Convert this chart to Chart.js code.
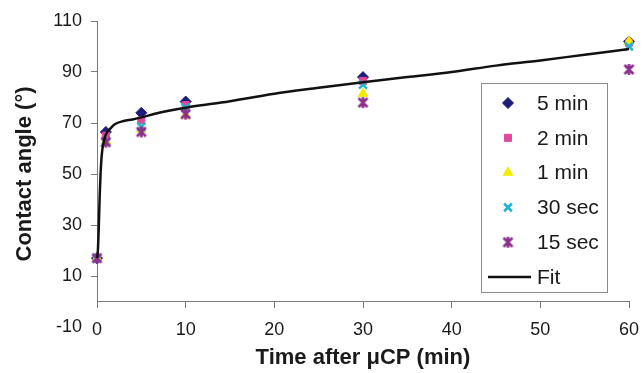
<!DOCTYPE html>
<html>
<head>
<meta charset="utf-8">
<script src="https://cdn.jsdelivr.net/npm/chart.js@4.4.0/dist/chart.umd.min.js"></script>
<style>
  html, body { margin: 0; padding: 0; background: #fff; }
  #wrap { position: relative; width: 642px; height: 373px; }
</style>
</head>
<body>
<div id="wrap"><canvas id="angleChart" width="642" height="373"></canvas></div>
<script>
// time points (min) and measured contact angles per stamping time
const times = [0, 1, 5, 10, 30, 60];
const fiveMin   = [17, 66.5, 74, 78.4, 88, 102];
const twoMin    = [17, 65, 71, 77, 86.5, 101.5];
const oneMin    = [17, 63, 67.5, 73, 81.5, 102];
const thirtySec = [17, 62.5, 68.5, 76, 85, 100];
const fifteenSec = [17, 62.5, 66.5, 73.5, 78, 91];

// fit curve
const fitX = [0, 0.1, 0.2, 0.3, 0.4, 0.55, 0.75, 1, 1.5, 2, 3, 4, 5, 7, 10, 14, 20, 25, 30, 35, 40, 45, 50, 55, 60];
const fitY = [17, 20, 29, 41, 50, 58, 62.5, 65.5, 67.8, 69.5, 70.8, 71.4, 72.2, 74, 76, 78, 81.5, 83.8, 86, 88, 90, 92.5, 94.5, 96.8, 99];

const xTicks = [0, 10, 20, 30, 40, 50, 60];
const yTicks = [-10, 10, 30, 50, 70, 90, 110];

const AXIS = '#7a7a7a';
const TXT = '#1a1a1a';

// x + vertical bar marker (excel star)
function starMarker(color){
  const c = document.createElement('canvas');
  c.width = 13; c.height = 13;
  const g = c.getContext('2d');
  g.strokeStyle = color; g.lineWidth = 2.6;
  g.beginPath();
  g.moveTo(2, 2); g.lineTo(11, 11);
  g.moveTo(11, 2); g.lineTo(2, 11);
  g.moveTo(6.5, 1); g.lineTo(6.5, 12);
  g.stroke();
  return c;
}

function pts(vals){ return times.map((t, i) => ({x: t, y: vals[i]})); }

const markerSet = (label, vals, color, style, r, order) => ({
  label: label,
  data: pts(vals),
  showLine: false,
  pointStyle: style,
  pointRadius: r,
  pointHoverRadius: r,
  pointBackgroundColor: color,
  pointBorderColor: color,
  pointBorderWidth: style === 'crossRot' ? 2.6 : 1,
  clip: false,
  order: order
});

const datasets = [
  markerSet('5 min', fiveMin, '#1c1c78', 'rectRot', 5.5, 5),
  markerSet('2 min', twoMin, '#e0489a', 'rect', 5, 4),
  markerSet('1 min', oneMin, '#f2ec00', 'triangle', 5.5, 3),
  markerSet('30 sec', thirtySec, '#1fb4d2', 'crossRot', 5.5, 2),
  markerSet('15 sec', fifteenSec, '#8c2f8c', starMarker('#8c2f8c'), 6, 1),
  {
    label: 'Fit',
    data: fitX.map((x, i) => ({x: x, y: fitY[i]})),
    showLine: true,
    borderColor: '#111',
    borderWidth: 2.5,
    pointRadius: 0,
    cubicInterpolationMode: 'monotone',
    clip: false,
    order: 0
  }
];

// y axis line from 0 to top, like the original
const yAxisLine = {
  id: 'yAxisLine',
  beforeDatasetsDraw(chart){
    const {ctx, scales: {x, y}} = chart;
    const px = Math.round(x.getPixelForValue(0)) + 0.5;
    ctx.save();
    ctx.strokeStyle = AXIS; ctx.lineWidth = 1;
    ctx.beginPath();
    ctx.moveTo(px, y.getPixelForValue(110));
    ctx.lineTo(px, y.getPixelForValue(0));
    ctx.stroke();
    ctx.restore();
  }
};

// boxed legend inside the plot
const boxLegend = {
  id: 'boxLegend',
  afterDraw(chart){
    const ctx = chart.ctx;
    const left = 481, top = 83, w = 126, h = 209;
    const rowH = 34.8, firstY = 103;
    ctx.save();
    ctx.fillStyle = '#fff';
    ctx.fillRect(left, top, w, h);
    ctx.strokeStyle = '#8a8a8a'; ctx.lineWidth = 1;
    ctx.strokeRect(left + 0.5, top + 0.5, w, h);
    ctx.font = '21px "Liberation Sans", Arial, sans-serif';
    ctx.textBaseline = 'middle';
    chart.data.datasets.forEach((ds, i) => {
      const cy = firstY + i * rowH;
      if (ds.showLine) {
        ctx.strokeStyle = ds.borderColor; ctx.lineWidth = ds.borderWidth;
        ctx.beginPath(); ctx.moveTo(488, cy); ctx.lineTo(531, cy); ctx.stroke();
      } else {
        ctx.fillStyle = ds.pointBackgroundColor;
        ctx.strokeStyle = ds.pointBorderColor;
        ctx.lineWidth = ds.pointBorderWidth;
        Chart.helpers.drawPoint(ctx, {pointStyle: ds.pointStyle, radius: ds.pointRadius, borderWidth: ds.pointBorderWidth, rotation: 0}, 508, cy);
      }
      ctx.fillStyle = TXT;
      ctx.fillText(ds.label, 537, cy + 1);
    });
    ctx.restore();
  }
};

new Chart(document.getElementById('angleChart'), {
  type: 'scatter',
  data: { datasets: datasets },
  options: {
    responsive: false,
    animation: false,
    events: [],
    layout: { padding: { left: 0, right: 13, top: 21, bottom: 46 } },
    plugins: { legend: { display: false }, tooltip: { enabled: false } },
    scales: {
      x: {
        type: 'linear',
        position: { y: 0 },
        min: 0, max: 60,
        afterBuildTicks: (s) => { s.ticks = xTicks.map(v => ({value: v})); },
        // keep tick padding from eating the right margin; set title offset
        afterFit: (s) => { s.paddingLeft = 0; s.paddingRight = 0; s.height = 70; },
        grid: { drawOnChartArea: false, tickLength: 6, color: AXIS },
        border: { color: AXIS },
        ticks: { color: TXT, padding: 12, maxRotation: 0, font: { family: 'Liberation Sans', size: 18 } },
        title: { display: true, text: 'Time after μCP (min)', color: TXT, padding: 0,
                 font: { family: 'Liberation Sans', size: 22, weight: 'bold' } }
      },
      y: {
        type: 'linear',
        min: -10, max: 110,
        afterBuildTicks: (s) => { s.ticks = yTicks.map(v => ({value: v})); },
        afterFit: (s) => { s.width = 97; },
        grid: { drawOnChartArea: false, tickLength: 6,
                color: (c) => (c.tick && c.tick.value === -10) ? 'rgba(0,0,0,0)' : AXIS },
        border: { display: false },
        ticks: { color: TXT, padding: 9, font: { family: 'Liberation Sans', size: 18 } },
        title: { display: true, text: 'Contact angle (°)', color: TXT, padding: { top: 12, bottom: 0 },
                 font: { family: 'Liberation Sans', size: 22, weight: 'bold' } }
      }
    }
  },
  plugins: [yAxisLine, boxLegend]
});
</script>
</body>
</html>
